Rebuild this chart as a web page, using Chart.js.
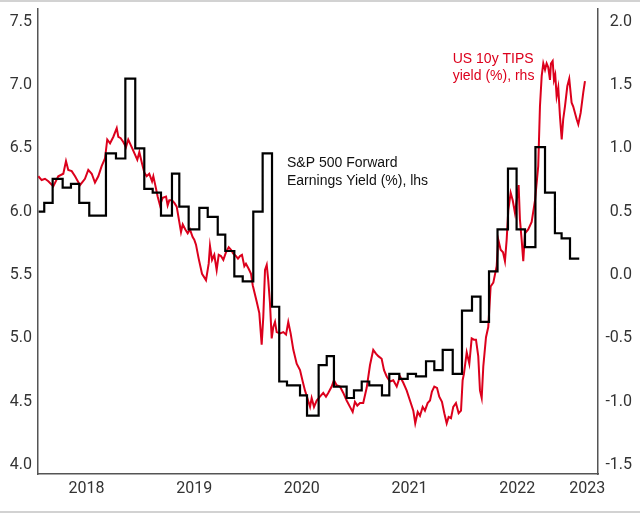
<!DOCTYPE html>
<html>
<head>
<meta charset="utf-8">
<script src="https://cdn.jsdelivr.net/npm/chart.js@4.4.1/dist/chart.umd.min.js"></script>
<style>
  html, body { margin: 0; padding: 0; background: #fff; }
  #wrap { width: 640px; height: 513px; }
</style>
</head>
<body>
<div id="wrap"><canvas id="yieldChart" width="640" height="513"></canvas></div>
<script>
// S&P 500 forward earnings yield (%), lhs - step series, each level holds until the next date
const spDates = [
  2018.056, 2018.108, 2018.186, 2018.279, 2018.356, 2018.433, 2018.526, 2018.681, 2018.774, 2018.861,
  2018.953, 2019.037, 2019.115, 2019.192, 2019.294, 2019.362, 2019.449, 2019.548, 2019.626, 2019.719,
  2019.789, 2019.873, 2019.951, 2020.049, 2020.136, 2020.223, 2020.290, 2020.362, 2020.483, 2020.548,
  2020.656, 2020.731, 2020.798, 2020.916, 2020.984, 2021.056, 2021.126, 2021.244, 2021.312, 2021.405,
  2021.483, 2021.560, 2021.653, 2021.730, 2021.808, 2021.901, 2021.987, 2022.080, 2022.159, 2022.238,
  2022.317, 2022.414, 2022.494, 2022.572, 2022.669, 2022.758, 2022.850, 2022.912, 2022.990, 2023.076
];
const spYield = [
  6.00, 6.07, 6.26, 6.19, 6.22, 6.07, 5.97, 6.46, 6.42, 7.05,
  6.50, 6.18, 6.15, 5.97, 6.30, 6.04, 5.86, 6.03, 5.96, 5.82,
  5.69, 5.49, 5.45, 6.00, 6.46, 5.25, 4.66, 4.63, 4.55, 4.39,
  4.79, 4.86, 4.62, 4.53, 4.59, 4.66, 4.63, 4.55, 4.72, 4.68,
  4.72, 4.70, 4.82, 4.75, 4.91, 4.72, 5.22, 5.33, 5.13, 5.53,
  5.86, 6.34, 5.86, 5.72, 6.51, 6.15, 5.83, 5.79, 5.63, 5.63
];

// US 10y TIPS yield (%), rhs
const tipsDates = [
  2018.053, 2018.084, 2018.115, 2018.146, 2018.192, 2018.238, 2018.285, 2018.310, 2018.331, 2018.363,
  2018.394, 2018.440, 2018.486, 2018.517, 2018.549, 2018.579, 2018.610, 2018.641, 2018.672, 2018.693,
  2018.719, 2018.749, 2018.781, 2018.796, 2018.818, 2018.842, 2018.867, 2018.888, 2018.920, 2018.951,
  2018.972, 2018.991, 2019.016, 2019.037, 2019.059, 2019.083, 2019.109, 2019.121, 2019.139, 2019.161,
  2019.183, 2019.208, 2019.239, 2019.254, 2019.269, 2019.294, 2019.316, 2019.338, 2019.356, 2019.378,
  2019.394, 2019.418, 2019.440, 2019.461, 2019.486, 2019.501, 2019.517, 2019.542, 2019.573, 2019.610,
  2019.635, 2019.647, 2019.666, 2019.687, 2019.709, 2019.728, 2019.749, 2019.771, 2019.796, 2019.821,
  2019.842, 2019.863, 2019.889, 2019.907, 2019.926, 2019.944, 2019.966, 2019.981, 2020.006, 2020.028,
  2020.044, 2020.081, 2020.105, 2020.127, 2020.142, 2020.158, 2020.174, 2020.188, 2020.204, 2020.220,
  2020.235, 2020.251, 2020.266, 2020.297, 2020.328, 2020.353, 2020.374, 2020.396, 2020.421, 2020.452,
  2020.483, 2020.508, 2020.529, 2020.551, 2020.576, 2020.591, 2020.613, 2020.638, 2020.668, 2020.699,
  2020.724, 2020.745, 2020.777, 2020.798, 2020.823, 2020.854, 2020.885, 2020.916, 2020.947, 2020.972,
  2020.993, 2021.015, 2021.040, 2021.070, 2021.102, 2021.133, 2021.163, 2021.188, 2021.210, 2021.241,
  2021.263, 2021.288, 2021.318, 2021.349, 2021.381, 2021.411, 2021.442, 2021.473, 2021.504, 2021.535,
  2021.553, 2021.576, 2021.597, 2021.622, 2021.643, 2021.668, 2021.690, 2021.708, 2021.730, 2021.755,
  2021.776, 2021.801, 2021.823, 2021.845, 2021.863, 2021.885, 2021.906, 2021.931, 2021.956, 2021.978,
  2021.993, 2022.005, 2022.031, 2022.055, 2022.077, 2022.098, 2022.117, 2022.138, 2022.154, 2022.170,
  2022.185, 2022.210, 2022.231, 2022.253, 2022.278, 2022.309, 2022.324, 2022.346, 2022.368, 2022.386,
  2022.402, 2022.417, 2022.439, 2022.458, 2022.479, 2022.500, 2022.513, 2022.525, 2022.541, 2022.556,
  2022.572, 2022.602, 2022.634, 2022.665, 2022.695, 2022.711, 2022.727, 2022.742, 2022.758, 2022.773,
  2022.788, 2022.804, 2022.813, 2022.829, 2022.841, 2022.853, 2022.866, 2022.881, 2022.897, 2022.913,
  2022.927, 2022.943, 2022.965, 2022.983, 2023.005, 2023.020, 2023.052, 2023.067, 2023.089, 2023.113,
  2023.129
];
const tipsYield = [
  0.78, 0.75, 0.76, 0.74, 0.70, 0.78, 0.80, 0.90, 0.83, 0.82,
  0.78, 0.71, 0.76, 0.83, 0.80, 0.73, 0.78, 0.86, 0.92, 1.07,
  1.04, 1.09, 1.16, 1.09, 1.08, 1.05, 1.01, 1.07, 1.01, 0.95,
  0.91, 0.97, 0.88, 0.81, 0.78, 0.80, 0.74, 0.78, 0.71, 0.62,
  0.55, 0.61, 0.62, 0.55, 0.59, 0.59, 0.57, 0.54, 0.45, 0.34,
  0.40, 0.36, 0.33, 0.36, 0.30, 0.28, 0.24, 0.13, 0.01, -0.04,
  0.09, 0.23, 0.12, 0.16, 0.04, 0.16, 0.15, 0.12, 0.18, 0.22,
  0.20, 0.17, 0.15, 0.13, 0.15, 0.16, 0.07, 0.09, 0.05, 0.01,
  -0.08, -0.21, -0.30, -0.55, -0.33, 0.04, 0.08, -0.04, -0.22, -0.50,
  -0.41, -0.37, -0.45, -0.46, -0.45, -0.47, -0.37, -0.46, -0.59, -0.70,
  -0.75, -0.84, -0.91, -0.97, -1.04, -0.97, -1.04, -0.99, -0.96, -0.93,
  -0.96, -0.93, -0.88, -0.83, -0.87, -0.88, -0.93, -0.99, -1.04, -1.08,
  -1.00, -1.03, -1.01, -1.01, -0.89, -0.71, -0.59, -0.62, -0.64, -0.66,
  -0.75, -0.80, -0.84, -0.83, -0.88, -0.80, -0.85, -0.91, -0.99, -1.07,
  -1.17, -1.08, -1.11, -1.04, -1.07, -1.01, -0.99, -0.92, -0.88, -0.89,
  -0.96, -1.00, -1.09, -1.17, -1.12, -1.13, -1.04, -1.01, -1.09, -1.07,
  -0.83, -0.78, -0.61, -0.70, -0.50, -0.51, -0.51, -0.64, -0.91, -0.97,
  -0.72, -0.49, -0.41, -0.09, -0.06, 0.07, 0.28, 0.20, 0.18, 0.11,
  0.28, 0.51, 0.65, 0.59, 0.49, 0.62, 0.71, 0.44, 0.28, 0.11,
  0.33, 0.36, 0.42, 0.59, 0.86, 1.33, 1.57, 1.67, 1.62, 1.67,
  1.64, 1.54, 1.67, 1.69, 1.54, 1.58, 1.41, 1.48, 1.25, 1.07,
  1.23, 1.33, 1.49, 1.55, 1.36, 1.33, 1.23, 1.19, 1.28, 1.44,
  1.53
];

const leftTicks = [4.0, 4.5, 5.0, 5.5, 6.0, 6.5, 7.0, 7.5];
const rightTicks = [-1.5, -1.0, -0.5, 0.0, 0.5, 1.0, 1.5, 2.0];
// year labels sit in the middle of each year (last one in the middle of the visible part)
const yearTickPos = [2018.5, 2019.5, 2020.5, 2021.5, 2022.5, 2023.15];
const yearLabels = ['2018', '2019', '2020', '2021', '2022', '2023'];

const RED = '#dc001c';
const TICK_FONT = {family: 'Roboto, "Liberation Sans", Arial, sans-serif', size: 16};

// text labels next to the lines, anchored in data units
const lineLabels = [
  {lines: ['S&P 500 Forward', 'Earnings Yield (%), lhs'], x: 2020.362, y: 6.386, axis: 'y', color: '#111', lineHeight: 18.5},
  {lines: ['US 10y TIPS', 'yield (%), rhs'], x: 2021.901, y: 1.705, axis: 'y1', color: RED, lineHeight: 17}
];

const labelPlugin = {
  id: 'lineLabels',
  afterDatasetsDraw(chart) {
    const ctx = chart.ctx;
    ctx.save();
    ctx.font = '14px "Liberation Sans", Arial, sans-serif';
    ctx.textAlign = 'left';
    ctx.textBaseline = 'middle';
    lineLabels.forEach((lb) => {
      const px = chart.scales.x.getPixelForValue(lb.x);
      const py = chart.scales[lb.axis].getPixelForValue(lb.y);
      ctx.fillStyle = lb.color;
      lb.lines.forEach((t, i) => ctx.fillText(t, px, py + i * lb.lineHeight));
    });
    ctx.restore();
  }
};

// thin grey rules at the top and bottom of the figure
const frameRules = {
  id: 'frameRules',
  beforeDraw(chart) {
    const ctx = chart.ctx;
    ctx.save();
    ctx.fillStyle = '#fff';
    ctx.fillRect(0, 0, chart.width, chart.height);
    ctx.fillStyle = '#d2d2d2';
    ctx.fillRect(0, 0, chart.width, 2);
    ctx.fillRect(0, chart.height - 2, chart.width, 2);
    ctx.restore();
  }
};

const noPad = (scale) => {
  scale.paddingTop = 0; scale.paddingBottom = 0;
  scale.paddingLeft = 0; scale.paddingRight = 0;
};

new Chart(document.getElementById('yieldChart'), {
  type: 'line',
  data: {
    datasets: [
      {
        label: 'S&P 500 Forward Earnings Yield (%), lhs',
        data: spDates.map((d, i) => ({x: d, y: spYield[i]})),
        yAxisID: 'y',
        borderColor: '#000',
        borderWidth: 2.2,
        stepped: true,
        pointRadius: 0,
        order: 0
      },
      {
        label: 'US 10y TIPS yield (%), rhs',
        data: tipsDates.map((d, i) => ({x: d, y: tipsYield[i]})),
        yAxisID: 'y1',
        borderColor: RED,
        borderWidth: 2,
        tension: 0,
        pointRadius: 0,
        order: 1
      }
    ]
  },
  options: {
    responsive: false,
    animation: false,
    devicePixelRatio: 1,
    layout: {padding: {top: 9, right: 8, bottom: 9, left: 0}},
    plugins: {legend: {display: false}, tooltip: {enabled: false}},
    scales: {
      x: {
        type: 'linear',
        min: 2018.05,
        max: 2023.25,
        grid: {display: false, drawTicks: false},
        border: {display: true, color: '#555', width: 1.5},
        afterBuildTicks: (scale) => { scale.ticks = yearTickPos.map(v => ({value: v})); },
        afterFit: (scale) => { scale.height = 30; noPad(scale); },
        ticks: {
          autoSkip: false, maxRotation: 0, minRotation: 0, padding: 5,
          color: '#333', font: TICK_FONT,
          callback: (v, i) => yearLabels[i]
        }
      },
      y: {
        position: 'left',
        min: 3.93,
        max: 7.6,
        grid: {display: false, drawTicks: false},
        border: {display: true, color: '#555', width: 1.5},
        afterBuildTicks: (scale) => { scale.ticks = leftTicks.map(v => ({value: v})); },
        afterFit: (scale) => { scale.width = 38; noPad(scale); },
        ticks: {padding: 6, color: '#333', font: TICK_FONT, callback: (v) => v.toFixed(1)}
      },
      y1: {
        position: 'right',
        min: -1.57,
        max: 2.1,
        grid: {display: false, drawTicks: false},
        border: {display: true, color: '#555', width: 1.5},
        afterBuildTicks: (scale) => { scale.ticks = rightTicks.map(v => ({value: v})); },
        afterFit: (scale) => { scale.width = 34; noPad(scale); },
        ticks: {crossAlign: 'far', color: '#333', font: TICK_FONT, callback: (v) => v.toFixed(1)}
      }
    }
  },
  plugins: [frameRules, labelPlugin]
});
</script>
</body>
</html>
